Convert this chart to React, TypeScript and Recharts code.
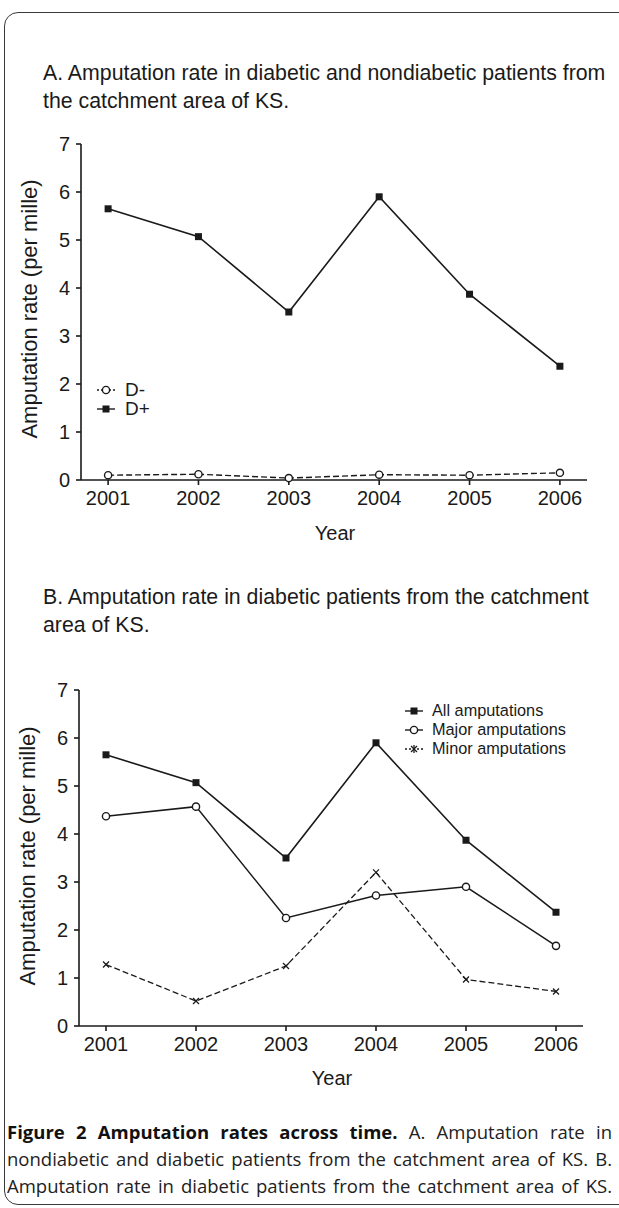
import { LineChart, Line, XAxis, YAxis } from 'recharts';

// data
const years = [2001, 2002, 2003, 2004, 2005, 2006];
const diabetic = [5.65, 5.07, 3.5, 5.9, 3.87, 2.37];
const nondiabetic = [0.1, 0.12, 0.04, 0.11, 0.1, 0.15];
const allAmputations = [5.65, 5.07, 3.5, 5.9, 3.87, 2.37];
const majorAmputations = [4.37, 4.57, 2.25, 2.72, 2.9, 1.67];
const minorAmputations = [1.28, 0.52, 1.25, 3.2, 0.97, 0.72];
const yTicks = [0, 1, 2, 3, 4, 5, 6, 7];

const dataA = years.map((year, i) => ({ year, dPlus: diabetic[i], dMinus: nondiabetic[i] }));
const dataB = years.map((year, i) => ({
  year,
  all: allAmputations[i],
  major: majorAmputations[i],
  minor: minorAmputations[i],
}));

const INK = '#1a1a1a';
const FONT = '"Liberation Sans", Arial, sans-serif';
const tickStyle = { fontSize: 20, fill: INK, fontFamily: FONT };

const SquareDot = (p: any) => (
  <rect key={`sq-${p.index}`} x={p.cx - 3.5} y={p.cy - 3.5} width={7} height={7} fill={INK} />
);
const CircleDot = (p: any) => (
  <circle key={`ci-${p.index}`} cx={p.cx} cy={p.cy} r={3.6} fill="#fff" stroke={INK} strokeWidth={1.4} />
);
const CrossDot = (p: any) => (
  <g key={`cr-${p.index}`} stroke={INK} strokeWidth={1.3}>
    <line x1={p.cx - 3} y1={p.cy - 3} x2={p.cx + 3} y2={p.cy + 3} />
    <line x1={p.cx - 3} y1={p.cy + 3} x2={p.cx + 3} y2={p.cy - 3} />
  </g>
);

function LegendIcon({ kind, dashed }: { kind: string; dashed?: boolean }) {
  return (
    <svg width={20} height={12} style={{ display: 'block' }}>
      <line x1={1} y1={6} x2={19} y2={6} stroke={INK} strokeWidth={1.4} strokeDasharray={dashed ? '2 2' : undefined} />
      {kind === 'square' && <rect x={6.5} y={2.5} width={7} height={7} fill={INK} />}
      {kind === 'circle' && <circle cx={10} cy={6} r={3.6} fill="#fff" stroke={INK} strokeWidth={1.4} />}
      {kind === 'cross' && (
        <g stroke={INK} strokeWidth={1.3}>
          <line x1={7} y1={3} x2={13} y2={9} />
          <line x1={7} y1={9} x2={13} y2={3} />
          <line x1={10} y1={2} x2={10} y2={10} />
        </g>
      )}
    </svg>
  );
}

const abs = (s: any) => ({ position: 'absolute' as const, ...s });

export default function App() {
  const axisCommon = {
    stroke: INK,
    strokeWidth: 1.6,
    tickLine: { stroke: INK, strokeWidth: 1.6 },
    tickSize: 5,
  };

  return (
    <div
      style={{
        position: 'fixed',
        left: 0,
        top: 0,
        width: 619,
        height: 1208,
        overflow: 'hidden',
        background: '#fff',
        fontFamily: FONT,
        color: INK,
      }}
    >
      {/* frame, open on the right */}
      <div style={abs({ left: 4, top: 12, width: 700, height: 1193, border: '1.6px solid #3a3a3a', borderRadius: 14, boxSizing: 'border-box' })} />

      {/* PANEL A */}
      <div style={abs({ left: 43, top: 59, fontSize: 21.3, lineHeight: '28px', whiteSpace: 'nowrap' })}>
        A. Amputation rate in diabetic and nondiabetic patients from
        <br />
        the catchment area of KS.
      </div>
      <div style={abs({ left: 0, top: 0 })}>
        <LineChart width={619} height={560} data={dataA} margin={{ top: 144, right: 32, left: 51, bottom: 50 }}>
          <XAxis
            dataKey="year"
            type="number"
            domain={[2000.7, 2006.3]}
            ticks={years}
            allowDataOverflow
            height={30}
            tick={tickStyle}
            tickMargin={6}
            {...axisCommon}
          />
          <YAxis domain={[0, 7]} ticks={yTicks} width={30} tick={tickStyle} tickMargin={6} {...axisCommon} />
          <Line dataKey="dMinus" stroke={INK} strokeWidth={1.4} strokeDasharray="6 3" dot={CircleDot} isAnimationActive={false} />
          <Line dataKey="dPlus" stroke={INK} strokeWidth={1.6} dot={SquareDot} isAnimationActive={false} />
        </LineChart>
      </div>
      <div style={abs({ left: 30, top: 309, width: 0, height: 0 })}>
        <div style={{ transform: 'translate(-50%, -50%) rotate(-90deg)', fontSize: 22, whiteSpace: 'nowrap', position: 'absolute' }}>
          Amputation rate (per mille)
        </div>
      </div>
      <div style={abs({ left: 335, top: 522, transform: 'translateX(-50%)', fontSize: 20 })}>Year</div>
      <div style={abs({ left: 96, top: 380, fontSize: 19, lineHeight: '19px' })}>
        {[
          { label: 'D-', kind: 'circle', dashed: true },
          { label: 'D+', kind: 'square' },
        ].map((it) => (
          <div key={it.label} style={{ display: 'flex', alignItems: 'center', gap: 9 }}>
            <LegendIcon kind={it.kind} dashed={it.dashed} />
            <span>{it.label}</span>
          </div>
        ))}
      </div>

      {/* PANEL B */}
      <div style={abs({ left: 43, top: 583, fontSize: 21.3, lineHeight: '28px', whiteSpace: 'nowrap' })}>
        B. Amputation rate in diabetic patients from the catchment
        <br />
        area of KS.
      </div>
      <div style={abs({ left: 0, top: 560 })}>
        <LineChart width={619} height={560} data={dataB} margin={{ top: 130, right: 36, left: 49, bottom: 64 }}>
          <XAxis
            dataKey="year"
            type="number"
            domain={[2000.7, 2006.3]}
            ticks={years}
            allowDataOverflow
            height={30}
            tick={tickStyle}
            tickMargin={6}
            {...axisCommon}
          />
          <YAxis domain={[0, 7]} ticks={yTicks} width={30} tick={tickStyle} tickMargin={6} {...axisCommon} />
          <Line dataKey="minor" stroke={INK} strokeWidth={1.3} strokeDasharray="6 3" dot={CrossDot} isAnimationActive={false} />
          <Line dataKey="major" stroke={INK} strokeWidth={1.5} dot={CircleDot} isAnimationActive={false} />
          <Line dataKey="all" stroke={INK} strokeWidth={1.6} dot={SquareDot} isAnimationActive={false} />
        </LineChart>
      </div>
      <div style={abs({ left: 28, top: 856, width: 0, height: 0 })}>
        <div style={{ transform: 'translate(-50%, -50%) rotate(-90deg)', fontSize: 22, whiteSpace: 'nowrap', position: 'absolute' }}>
          Amputation rate (per mille)
        </div>
      </div>
      <div style={abs({ left: 332, top: 1067, transform: 'translateX(-50%)', fontSize: 20 })}>Year</div>
      <div style={abs({ left: 404, top: 701, fontSize: 16.3, lineHeight: '19px' })}>
        {[
          { label: 'All amputations', kind: 'square' },
          { label: 'Major amputations', kind: 'circle' },
          { label: 'Minor amputations', kind: 'cross', dashed: true },
        ].map((it) => (
          <div key={it.label} style={{ display: 'flex', alignItems: 'center', gap: 8, height: 19 }}>
            <LegendIcon kind={it.kind} dashed={it.dashed} />
            <span>{it.label}</span>
          </div>
        ))}
      </div>

      {/* caption */}
      <div style={abs({ left: 7, top: 1118, width: 605, fontFamily: '"Open Sans", "Noto Sans", sans-serif', fontSize: 18.5, lineHeight: '27px', color: '#222' })}>
        {[
          <>
            <b style={{ color: '#111' }}>Figure 2 Amputation rates across time.</b> A. Amputation rate in
          </>,
          <>nondiabetic and diabetic patients from the catchment area of KS. B.</>,
          <>Amputation rate in diabetic patients from the catchment area of KS.</>,
        ].map((line, i) => (
          <div key={i} style={{ textAlign: 'justify', textAlignLast: 'justify', whiteSpace: 'nowrap' }}>
            {line}
          </div>
        ))}
      </div>
    </div>
  );
}
